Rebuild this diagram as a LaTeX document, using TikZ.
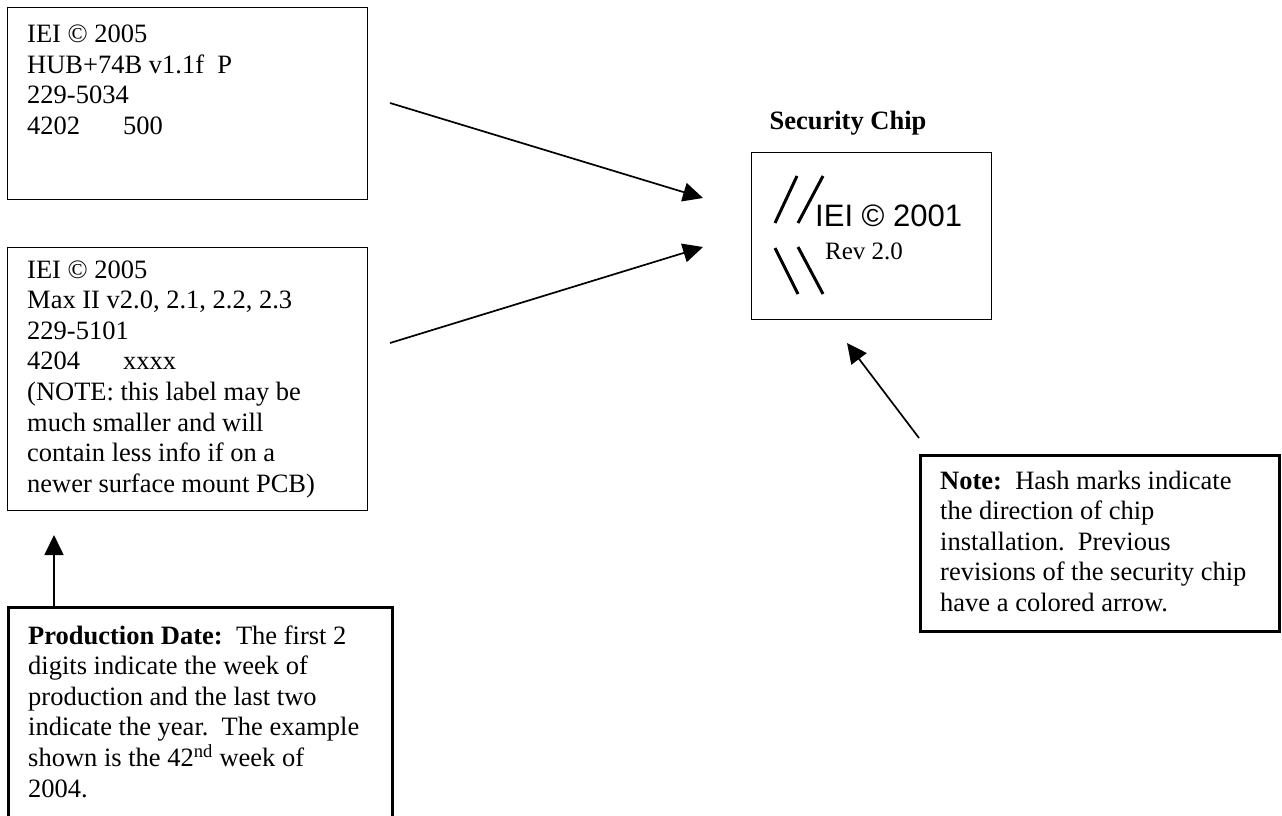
\documentclass[tikz,border=0pt]{standalone}
\usepackage{fontspec}
\setmainfont{Liberation Serif}
\newfontfamily\arialfont{Liberation Sans}
\usetikzlibrary{arrows.meta}
\newcommand\txtlines[1]{\parbox[t]{600pt}{#1}}
\begin{document}
\begin{tikzpicture}[x=1pt,y=-1pt,
  thinbox/.style={draw, line width=1.3pt, inner sep=0pt, anchor=north west},
  thickbox/.style={draw, line width=3pt, inner sep=0pt, anchor=north west},
  txt/.style={inner sep=0pt, anchor=base west, font=\fontsize{26.5}{30.6}\selectfont},
  conn/.style={line width=1.7pt, -{Triangle[length=20pt,width=19pt]}},
  hash/.style={line width=3pt}]
\useasboundingbox (0,0) rectangle (1282,816);
\clip (0,0) rectangle (1282,816);
\fill[white] (0,0) rectangle (1282,816);

% label boxes
\node[thinbox, minimum width=360pt, minimum height=192pt] (lab1) at (7,7) {};
\node[txt] (lab1t) at (27,42.5) {\txtlines{IEI © 2005\\
HUB+74B v1.1f\ \ P\\
229-5034\\
4202\hspace{43pt}500}};

\node[thinbox, minimum width=360pt, minimum height=263pt] (lab2) at (7,247) {};
\node[txt] (lab2t) at (27,278) {\txtlines{IEI © 2005\\
Max II v2.0, 2.1, 2.2, 2.3\\
229-5101\\
4204\hspace{43pt}xxxx\\
(NOTE: this label may be\\
much smaller and will\\
contain less info if on a\\
newer surface mount PCB)}};

% production date box
\node[thickbox, minimum width=384pt, minimum height=240pt] (prod) at (7,606) {};
\node[txt] (prodt) at (28,644) {\txtlines{\textbf{Production Date:}\ \ The first 2\\
digits indicate the week of\\
production and the last two\\
indicate the year.\ \ The example\\
shown is the 42\textsuperscript{nd} week of\\
2004.}};

% security chip
\node[inner sep=0pt, anchor=base, font=\fontsize{26.5}{30.6}\selectfont\bfseries] (title) at (848,129) {Security Chip};
\node[thinbox, minimum width=240pt, minimum height=167pt] (chip) at (751,152) {};
\draw[hash] (775,223) -- (797,176);
\draw[hash] (798,223) -- (823,176);
\draw[hash] (775,248) -- (798,294);
\draw[hash] (798,247) -- (823,294);
\node[inner sep=0pt, anchor=base west, font=\fontsize{31}{36}\arialfont] (chipt) at (815,226) {IEI © 2001};
\node[inner sep=0pt, anchor=base west, font=\fontsize{25}{30}\selectfont] (rev) at (825,259) {Rev 2.0};

% note box
\node[thickbox, minimum width=359pt, minimum height=176pt] (note) at (919,454) {};
\node[txt] (notet) at (940,489) {\txtlines{\textbf{Note:}\ \ Hash marks indicate\\
the direction of chip\\
installation.\ \ Previous\\
revisions of the security chip\\
have a colored arrow.}};

% connectors
\coordinate (a1s) at (390,103);
\coordinate (a1e) at (703,198);
\coordinate (a2s) at (390,343);
\coordinate (a2e) at (703,247);
\coordinate (ups) at (54,606);
\coordinate (upe) at (54,535);
\coordinate (ns) at (919,438);
\coordinate (ne) at (847,343);
\draw[conn] (a1s) -- (a1e);
\draw[conn] (a2s) -- (a2e);
\draw[conn] (ups) -- (upe);
\draw[conn] (ns) -- (ne);
\end{tikzpicture}
\end{document}
